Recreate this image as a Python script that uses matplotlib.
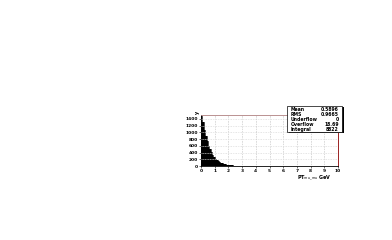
import numpy as np
import matplotlib
matplotlib.use("Agg")
import matplotlib.pyplot as plt
from matplotlib.patches import Rectangle

# Histogram: PT_mumu, 100 bins from 0 to 10 GeV
bin_edges = np.linspace(0, 10, 101)
counts = [1480, 1300, 1080, 900, 740, 610, 500, 410, 330, 270,
          220, 180, 145, 118, 95, 78, 63, 51, 42, 34,
          28, 23, 19, 15, 12, 10, 8, 7, 6, 5,
          4, 4, 3, 3, 2, 2, 2, 2, 1, 1,
          1, 1, 1, 1, 0, 1, 0, 1, 0, 0] + [0] * 50
x_ticks = list(range(0, 11))
y_ticks = [0, 200, 400, 600, 800, 1000, 1200, 1400]
stats_labels = ["Mean", "RMS", "Underflow", "Overflow", "Integral"]
stats_values = ["0.5896", "0.9665", "0", "18.69", "8822"]

fig = plt.figure(figsize=(3.92, 2.4), dpi=100)
ax = fig.add_axes([0.513, 0.308, 0.349, 0.213])

ax.stairs(counts, bin_edges, fill=True, color="black", zorder=2)
ax.stairs(counts, bin_edges, color="black", lw=0.5, zorder=3)
# light horizontal striping seen inside the filled histogram
for yv in y_ticks[1:]:
    ax.axhline(yv, color="white", lw=0.4, ls=(0, (2, 1)), zorder=4)

ax.set_xlim(0, 10)
ax.set_ylim(0, 1520)
ax.set_xticks(x_ticks)
ax.set_yticks(y_ticks)
ax.set_xticklabels([str(t) for t in x_ticks], fontsize=3.2, fontweight="bold")
ax.set_yticklabels([str(t) for t in y_ticks], fontsize=3.2, fontweight="bold")
ax.tick_params(length=1.5, width=0.4, pad=0.8)
ax.grid(True, color="#888888", linestyle=(0, (1, 2)), linewidth=0.4, zorder=1)
ax.set_axisbelow(True)
for s in ax.spines.values():
    s.set_linewidth(0.6)
ax.spines["top"].set_color("#b08080")
ax.spines["right"].set_color("#8b0000")

ax.text(0.95, -0.15, r"PT$_{mu\_mu}$ GeV", transform=ax.transAxes, ha="right",
        va="top", fontsize=3.5, fontweight="bold")
ax.text(-0.03, 1.04, "y", transform=ax.transAxes, ha="center", va="center",
        fontsize=3.5, fontweight="bold", rotation=90)

# Stats box
bx0, by0, bw, bh = 287 / 392, 1 - 132 / 240, 55 / 392, 26 / 240
fig.patches.append(Rectangle((bx0 + 0.004, by0 - 0.006), bw, bh, transform=fig.transFigure,
                             facecolor="black", edgecolor="none", zorder=5))
fig.patches.append(Rectangle((bx0, by0), bw, bh, transform=fig.transFigure,
                             facecolor="white", edgecolor="black", lw=0.5, zorder=6))
for i, (lab, val) in enumerate(zip(stats_labels, stats_values)):
    yy = by0 + bh - (i + 0.6) * bh / 5
    fig.text(bx0 + 0.01, yy, lab, fontsize=3.3, fontweight="bold", va="center",
             ha="left", zorder=7)
    fig.text(bx0 + bw - 0.008, yy, val, fontsize=3.3, fontweight="bold", va="center",
             ha="right", zorder=7)

fig.savefig("out.png", dpi=100)
